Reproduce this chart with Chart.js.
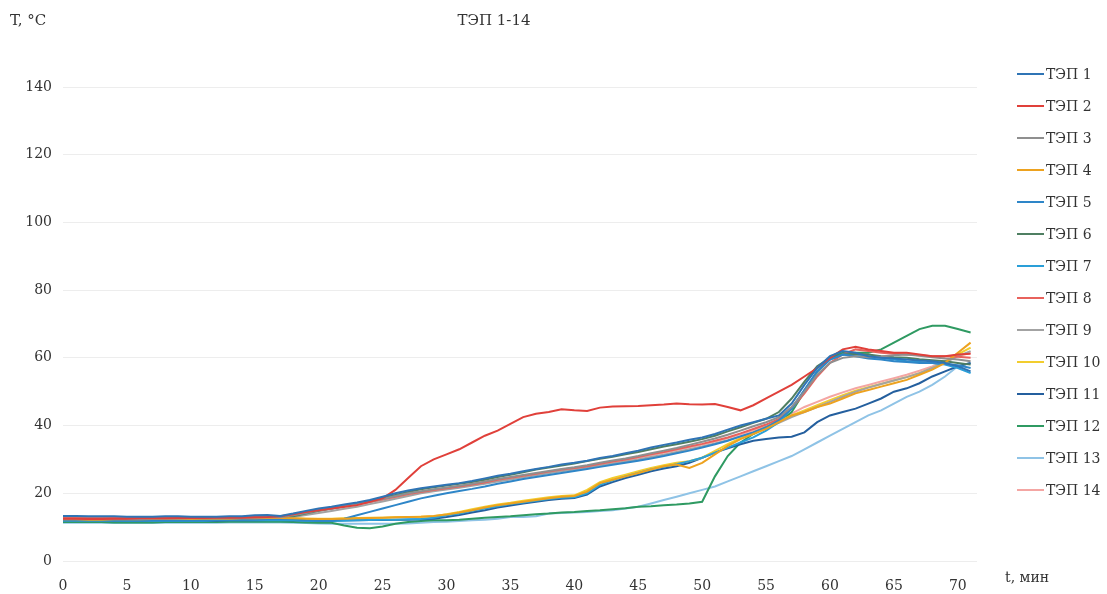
<!DOCTYPE html>
<html>
<head>
<meta charset="utf-8">
<script src="https://cdn.jsdelivr.net/npm/chart.js@4.4.0/dist/chart.umd.min.js"></script>
<style>
  html, body { margin: 0; padding: 0; background: #ffffff; }
  #wrap { width: 1107px; height: 594px; position: relative; }
</style>
</head>
<body>
<div id="wrap"><canvas id="chart" width="1107" height="594"></canvas></div>
<script>
// Time in minutes, one reading per minute
const minutes = [
  0,1,2,3,4,5,6,7,8,9,10,11,12,13,14,15,16,17,18,19,20,21,22,23,24,25,26,27,28,29,30,
  31,32,33,34,35,36,37,38,39,40,41,42,43,44,45,46,47,48,49,50,51,52,53,54,55,56,57,58,59,60,
  61,62,63,64,65,66,67,68,69,70,71
];
const xTickLabels = [0,5,10,15,20,25,30,35,40,45,50,55,60,65,70];
const yTickLabels = [0,20,40,60,80,100,120,140];

const chartTitle = 'ТЭП 1-14';
const yAxisTitle = 'T, °C';
const xAxisTitle = 't, мин';

const seriesNames = ['ТЭП 1','ТЭП 2','ТЭП 3','ТЭП 4','ТЭП 5','ТЭП 6','ТЭП 7',
                     'ТЭП 8','ТЭП 9','ТЭП 10','ТЭП 11','ТЭП 12','ТЭП 13','ТЭП 14'];
const seriesColors = ['#2f74b5','#e0403a','#8f8f8f','#eda21f','#2e86c8','#4f7f62','#2a9fd8',
                      '#e8625c','#a3a3a3','#f2cd2e','#245f9e','#2f9a62','#8fc3e6','#f4a6a3'];

// Temperature of each heater, °C
const tep1 = [13.3,13.3,13.2,13.2,13.2,13.1,13.1,13.1,13.2,13.2,13.1,13.1,13.1,13.2,13.2,13.5,13.6,
  13.3,14,14.8,15.5,16,16.7,17.3,18,19,20,20.8,21.5,22,22.5,23,23.6,24.4,25.2,25.8,26.5,27.2,27.8,28.5,29,
  29.6,30.4,31,31.8,32.6,33.5,34.3,35,35.8,36.5,37.5,38.8,40,41,42,43,46.5,52,57,60.5,
  62,61.5,60.5,60,59.8,59.5,59.2,59,58.5,57.5,56];
const tep2 = [12.5,12.5,12.4,12.4,12.5,12.5,12.6,12.6,12.6,12.7,12.7,12.7,12.8,12.8,12.8,12.9,13,
  13.2,13.8,14.5,15,15.5,16,16.5,17.5,18.5,21,24.5,28,30,31.5,33,35,37,38.5,40.5,42.5,43.5,44,44.8,44.5,
  44.3,45.3,45.6,45.7,45.8,46,46.2,46.5,46.3,46.2,46.4,45.5,44.5,46,48,50,52,54.5,57,60,
  62.5,63.3,62.5,62,61.5,61.5,61,60.5,60.5,61,61.2];
const tep3 = [12.5,12.5,12.5,12.5,12.4,12.4,12.4,12.5,12.5,12.5,12.6,12.6,12.6,12.6,12.7,12.8,12.9,
  12.9,13.5,14.2,15,15.5,16.2,16.8,17.5,18.3,19.2,20,20.6,21.2,21.7,22.2,22.8,23.5,24.2,24.8,25.4,26,26.6,27.2,27.7,
  28.3,29,29.7,30.3,31,31.8,32.6,33.4,34.3,35.2,36.2,37.3,38.5,39.8,41,42.5,45.5,50,55,58.5,
  60,60.5,60.2,60.4,60.8,61,60.6,60.2,59.8,59.5,59];
const tep4 = [12.3,12.3,12.2,12.2,12.3,12.3,12.3,12.4,12.4,12.4,12.4,12.5,12.5,12.5,12.6,12.6,12.7,
  12.7,12.6,12.5,12.4,12.4,12.5,12.6,12.7,12.8,12.9,13,13.1,13.3,13.7,14.3,15,15.8,16.5,17,17.5,18,18.5,19,19.2,
  20.5,23,24,25,26,27,28,28.5,27.5,29,31.5,34,36,37.5,39,41,43,44,45.5,46.5,
  48,49.5,50.5,51.5,52.5,53.5,55,56.5,58.5,61.5,64.5];
const tep5 = [12,12,12,12,11.9,11.9,11.9,12,12,12,12,12,12.1,12.1,12.1,12.2,12.3,
  12.3,12.3,12,11.8,11.8,12.5,13.5,14.5,15.5,16.5,17.5,18.5,19.3,20,20.7,21.3,22,22.8,23.5,24.2,24.8,25.4,26,26.6,
  27.2,27.8,28.4,29,29.6,30.3,31,31.8,32.6,33.5,34.5,35.5,36.8,38,39.5,41.5,45,50.5,56,59.5,
  61,60.5,59.8,59.5,59,58.8,58.5,58.5,58.2,57.8,57];
const tep6 = [12,12,12,12,12,12.1,12.1,12.1,12.1,12.2,12.2,12.2,12.2,12.3,12.3,12.5,12.7,
  12.8,13.2,14,14.8,15.5,16.2,17,17.8,18.6,19.5,20.4,21.2,21.8,22.3,22.8,23.3,24,24.8,25.5,26.2,27,27.6,28.2,28.8,
  29.5,30.2,30.8,31.5,32.2,33,33.8,34.5,35.2,36,37,38.3,39.5,40.8,42,44,48,53,57.5,60,
  61,61.2,61,60.5,60.2,60,59.6,59.3,59,58.5,58];
const tep7 = [11.8,11.8,11.8,11.8,11.8,11.8,11.9,11.9,11.9,11.9,11.9,11.9,12,12,12,12,12,
  12,12,11.9,11.8,11.8,11.9,12,12.1,12.2,12.2,12.3,12.4,12.8,13.5,14,14.8,15.5,16.2,16.8,17.3,17.8,18.3,18.7,18.8,
  20,22.5,23.8,25,26,27,27.8,28.6,29.5,30.5,32,33.5,35,36.5,38.5,41,45,50.5,56,59.5,
  61,61,60.5,60,59.5,59,58.8,58.5,58,57,55.5];
const tep8 = [12.8,12.8,12.7,12.7,12.7,12.8,12.8,12.8,12.8,12.9,12.9,12.9,12.9,13,13,13.1,13.2,
  13.1,13.6,14.4,15,15.6,16.2,16.8,17.5,18.2,19,19.8,20.4,21,21.5,22,22.6,23.2,24,24.6,25.2,25.8,26.4,27,27.5,
  28,28.7,29.4,30,30.7,31.5,32.2,33,33.8,34.6,35.5,36.5,37.7,39,40.3,42,45,49.5,54.5,58.5,
  61,62.5,62,61.5,61.2,61,60.8,60.5,60.5,60.3,60];
const tep9 = [12.2,12.2,12.2,12.1,12.1,12.1,12.2,12.2,12.2,12.3,12.3,12.3,12.3,12.4,12.4,12.5,12.6,
  12.6,13,13.6,14.2,14.8,15.4,16,16.8,17.6,18.4,19.2,20,20.6,21.1,21.6,22.2,22.8,23.5,24.1,24.7,25.3,25.9,26.5,27,
  27.6,28.2,28.8,29.4,30,30.7,31.4,32.2,33,33.8,34.7,35.7,36.8,38,39.3,40.8,42.5,44,45.5,47,
  48.5,50,51.2,52.3,53.3,54.3,55.5,57,58.5,60.5,62];
const tep10 = [12.4,12.4,12.4,12.4,12.3,12.3,12.3,12.4,12.4,12.4,12.5,12.5,12.5,12.5,12.6,12.6,12.7,
  12.7,12.6,12.5,12.5,12.5,12.6,12.7,12.8,12.8,12.9,13,13.1,13.2,13.8,14.5,15.3,16,16.7,17.2,17.8,18.3,18.8,19.2,19.4,
  21,23.3,24.5,25.5,26.5,27.5,28.3,29,29.5,30.5,32.5,34.5,36.3,38,39.5,41.2,43,44.5,46,47.5,
  49,50.3,51.3,52.3,53.3,54.3,55.5,57,58.8,61,63];
const tep11 = [11.8,11.8,11.8,11.8,11.8,11.8,11.8,11.9,11.9,11.9,11.9,11.9,11.9,12,12,12,12.1,
  12.1,12,11.9,11.9,11.9,12,12,12.1,12.1,12.2,12.2,12.3,12.5,13,13.6,14.3,15,15.8,16.4,17,17.5,18,18.4,18.6,
  19.6,22,23.3,24.5,25.5,26.5,27.3,28,29,30.5,32,33.3,34.5,35.5,36,36.5,36.7,38,41,43,
  44,45,46.5,48,50,51,52.5,54.5,56,57.5,58.5];
const tep12 = [11.5,11.5,11.5,11.5,11.4,11.4,11.4,11.4,11.5,11.5,11.5,11.5,11.5,11.6,11.6,11.6,11.6,
  11.6,11.5,11.4,11.3,11.3,10.5,9.8,9.7,10.2,11,11.5,11.8,12,12,12.2,12.5,12.8,13,13.2,13.5,13.8,14,14.3,14.5,
  14.8,15,15.3,15.6,16,16.2,16.5,16.7,17,17.5,25,31,35,37.5,39.5,41,44,50,56,60,
  61.5,61.5,61.5,62.5,64.5,66.5,68.5,69.5,69.5,68.5,67.5];
const tep13 = [11.3,11.3,11.3,11.3,11.2,11.2,11.2,11.2,11.3,11.3,11.3,11.3,11.3,11.4,11.4,11.4,11.4,
  11.4,11.3,11.2,11.1,11,11,11,11,11,11,11.1,11.3,11.5,11.6,11.8,12,12.2,12.5,13,13,13.2,14,14.2,14.3,
  14.5,14.8,15,15.5,16,17,18,19,20,21,22,23.5,25,26.5,28,29.5,31,33,35,37,
  39,41,43,44.5,46.5,48.5,50,52,54.5,57.5,58.5];
const tep14 = [12.6,12.6,12.6,12.5,12.5,12.5,12.6,12.6,12.6,12.7,12.7,12.7,12.7,12.8,12.8,12.9,13,
  13,13.4,14.1,14.8,15.4,16,16.6,17.3,18,18.8,19.6,20.3,20.9,21.4,21.9,22.5,23.2,23.9,24.5,25.1,25.7,26.3,26.9,27.4,
  28,28.6,29.2,29.8,30.5,31.2,32,32.8,33.6,34.4,35.3,36.3,37.4,38.6,40,41.5,43.5,45.5,47,48.5,
  49.8,51,52,53,54,55,56.2,57.5,59,60.5,61.5];

const seriesValues = [tep1,tep2,tep3,tep4,tep5,tep6,tep7,tep8,tep9,tep10,tep11,tep12,tep13,tep14];

const textColor = '#333333';
const serif = '"DejaVu Serif", "Liberation Serif", serif';

const datasets = seriesNames.map((name, i) => ({
  label: name,
  data: minutes.map((t, k) => ({ x: t, y: seriesValues[i][k] })),
  borderColor: seriesColors[i],
  backgroundColor: seriesColors[i],
  borderWidth: 2,
  pointRadius: 0,
  tension: 0,
  fill: false
}));

// Title, axis captions and the legend column on the right
const captions = {
  id: 'captions',
  afterDraw(chart) {
    const ctx = chart.ctx;
    const xScale = chart.scales.x;
    ctx.save();
    ctx.fillStyle = textColor;
    ctx.textBaseline = 'middle';
    ctx.font = '15px ' + serif;
    ctx.textAlign = 'left';
    ctx.fillText(yAxisTitle, 10, 21);
    ctx.textAlign = 'center';
    ctx.fillText(chartTitle, 494, 21);
    ctx.font = '14px ' + serif;
    ctx.textAlign = 'left';
    ctx.fillText(xAxisTitle, 1005, xScale.top + 17);

    chart.data.datasets.forEach((ds, i) => {
      const y = 74 + 32 * i;
      ctx.strokeStyle = ds.borderColor;
      ctx.lineWidth = 2;
      ctx.beginPath();
      ctx.moveTo(1017, y);
      ctx.lineTo(1044, y);
      ctx.stroke();
      ctx.fillText(ds.label, 1046, y + 1);
    });
    ctx.restore();
  }
};

new Chart(document.getElementById('chart'), {
  type: 'line',
  data: { datasets },
  plugins: [captions],
  options: {
    responsive: false,
    animation: false,
    devicePixelRatio: 1,
    layout: { padding: { top: 87, right: 130, bottom: 0, left: 0 } },
    plugins: {
      legend: { display: false },
      title: { display: false },
      tooltip: { enabled: false }
    },
    scales: {
      x: {
        type: 'linear',
        min: 0,
        max: 71.5,
        afterBuildTicks: s => { s.ticks = xTickLabels.map(v => ({ value: v })); },
        afterFit: s => { s.height = 33; },
        grid: { display: false },
        border: { display: false },
        ticks: {
          color: textColor,
          font: { family: serif, size: 14 },
          padding: 9,
          maxRotation: 0,
          autoSkip: false
        }
      },
      y: {
        min: 0,
        max: 140,
        afterBuildTicks: s => { s.ticks = yTickLabels.map(v => ({ value: v })); },
        afterFit: s => { s.width = 63; },
        grid: { color: '#ededed', lineWidth: 1, drawTicks: false },
        border: { display: false },
        ticks: {
          color: textColor,
          font: { family: serif, size: 14 },
          padding: 11
        }
      }
    }
  }
});
</script>
</body>
</html>
